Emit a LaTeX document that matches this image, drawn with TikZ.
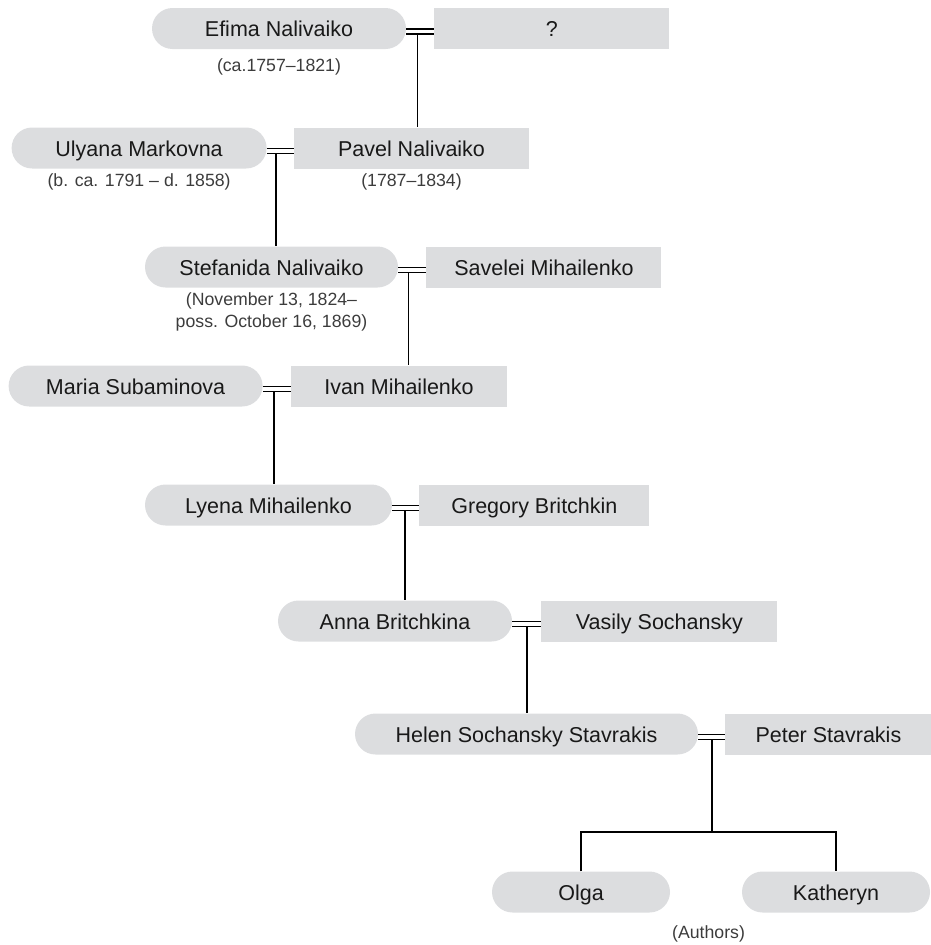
\documentclass[tikz,border=0pt]{standalone}
\usepackage{fontspec}
\setmainfont{Liberation Sans}
\usepackage{tikz}
\usetikzlibrary{positioning,calc}
\definecolor{boxgray}{RGB}{220,221,223}
\definecolor{namecol}{RGB}{25,25,25}
\definecolor{datecol}{RGB}{60,60,60}

\begin{document}
\begin{tikzpicture}[x=1pt, y=-1pt]
                \tikzstyle{woman} = [rectangle, fill=boxgray, rounded corners=20.5pt,
                minimum height=41pt, inner sep=0pt, text=namecol,
                text height=16pt, text depth=0pt, font=\fontsize{21.5}{24}\selectfont]
                \tikzstyle{man} = [rectangle, fill=boxgray,
                minimum height=41pt, inner sep=0pt, text=namecol,
                text height=16pt, text depth=0pt, font=\fontsize{21.5}{24}\selectfont]
                \tikzstyle{dates} = [inner sep=0pt, text=datecol, align=center,
                font=\fontsize{17.7}{22}\selectfont]
                \tikzstyle{link} = [line width=1.6pt, draw=black]

                \useasboundingbox (0,0) rectangle (931,945);

                \node [woman, minimum width=254pt] (efima) at (279,28.5) {Efima Nalivaiko};
                \node [man, minimum width=235pt, right=28pt of efima] (unknown) {?};
                \node [dates, below=9pt of efima] (efimadates) {(ca.1757--1821)};

                \node [man, minimum width=235pt] (pavel) at (411.5,148) {Pavel Nalivaiko};
                \node [woman, minimum width=255pt, left=27pt of pavel] (ulyana) {Ulyana Markovna};
                \node [dates, below=5pt of ulyana] (ulyanadates) {(b. ca. 1791 -- d. 1858)};
                \node [dates, below=5pt of pavel] (paveldates) {(1787--1834)};

                \node [woman, minimum width=253pt] (stefanida) at (271.5,267) {Stefanida Nalivaiko};
                \node [man, minimum width=235pt, right=28pt of stefanida] (savelei) {Savelei Mihailenko};
                \node [dates, below=5pt of stefanida] (stefanidadates) {(November 13, 1824--\\poss. October 16, 1869)};

                \node [man, minimum width=216pt] (ivan) at (399,386) {Ivan Mihailenko};
                \node [woman, minimum width=254pt, left=28pt of ivan] (maria) {Maria Subaminova};

                \node [woman, minimum width=247pt] (lyena) at (268.5,505) {Lyena Mihailenko};
                \node [man, minimum width=230pt, right=27pt of lyena] (gregory) {Gregory Britchkin};

                \node [woman, minimum width=234pt] (anna) at (395,621) {Anna Britchkina};
                \node [man, minimum width=236pt, right=29pt of anna] (vasily) {Vasily Sochansky};

                \node [woman, minimum width=343pt] (helen) at (526.5,734) {Helen Sochansky Stavrakis};
                \node [man, minimum width=206pt, right=27pt of helen] (peter) {Peter Stavrakis};

                \node [woman, minimum width=178pt] (olga) at (581,892) {Olga};
                \node [woman, minimum width=188pt] (katheryn) at (836,892) {Katheryn};
                \node [dates, below=13pt] (authors) at ($(olga.south)!.5!(katheryn.south)$) {(Authors)};

                % marriages
                \draw [link] ([yshift=-0.5pt]efima.east) -- ([yshift=-0.5pt]unknown.west);
                \draw [link] ([yshift=-5.5pt]efima.east) -- ([yshift=-5.5pt]unknown.west);
                \draw [link] ([yshift=-0.5pt]ulyana.east) -- ([yshift=-0.5pt]pavel.west);
                \draw [link] ([yshift=-5.5pt]ulyana.east) -- ([yshift=-5.5pt]pavel.west);
                \draw [link] ([yshift=-0.5pt]stefanida.east) -- ([yshift=-0.5pt]savelei.west);
                \draw [link] ([yshift=-5.5pt]stefanida.east) -- ([yshift=-5.5pt]savelei.west);
                \draw [link] ([yshift=-0.5pt]maria.east) -- ([yshift=-0.5pt]ivan.west);
                \draw [link] ([yshift=-5.5pt]maria.east) -- ([yshift=-5.5pt]ivan.west);
                \draw [link] ([yshift=-0.5pt]lyena.east) -- ([yshift=-0.5pt]gregory.west);
                \draw [link] ([yshift=-5.5pt]lyena.east) -- ([yshift=-5.5pt]gregory.west);
                \draw [link] ([yshift=-0.5pt]anna.east) -- ([yshift=-0.5pt]vasily.west);
                \draw [link] ([yshift=-5.5pt]anna.east) -- ([yshift=-5.5pt]vasily.west);
                \draw [link] ([yshift=-0.5pt]helen.east) -- ([yshift=-0.5pt]peter.west);
                \draw [link] ([yshift=-5.5pt]helen.east) -- ([yshift=-5.5pt]peter.west);

                % descent
                \coordinate (m1) at ($([yshift=-5.5pt]efima.east)!.4!([yshift=-5.5pt]unknown.west)$);
                \coordinate (m2) at ($([yshift=-5.5pt]ulyana.east)!.35!([yshift=-5.5pt]pavel.west)$);
                \coordinate (m3) at ($([yshift=-5.5pt]stefanida.east)!.37!([yshift=-5.5pt]savelei.west)$);
                \coordinate (m4) at ($([yshift=-5.5pt]maria.east)!.4!([yshift=-5.5pt]ivan.west)$);
                \coordinate (m5) at ($([yshift=-5.5pt]lyena.east)!.48!([yshift=-5.5pt]gregory.west)$);
                \coordinate (m6) at ($([yshift=-5.5pt]anna.east)!.5!([yshift=-5.5pt]vasily.west)$);
                \coordinate (m7) at ($([yshift=-5.5pt]helen.east)!.52!([yshift=-5.5pt]peter.west)$);

                \draw [link] (m1) -- (m1 |- pavel.north);
                \draw [link] (m2) -- (m2 |- stefanida.north);
                \draw [link] (m3) -- (m3 |- ivan.north);
                \draw [link] (m4) -- (m4 |- lyena.north);
                \draw [link] (m5) -- (m5 |- anna.north);
                \draw [link] (m6) -- (m6 |- helen.north);
                \draw [link] (m7) -- ++(0,92.5) coordinate (fork);
                \draw [link] (olga.north) -- (olga.north |- fork) -- (katheryn.north |- fork) -- (katheryn.north);
            \end{tikzpicture}
\end{document}
